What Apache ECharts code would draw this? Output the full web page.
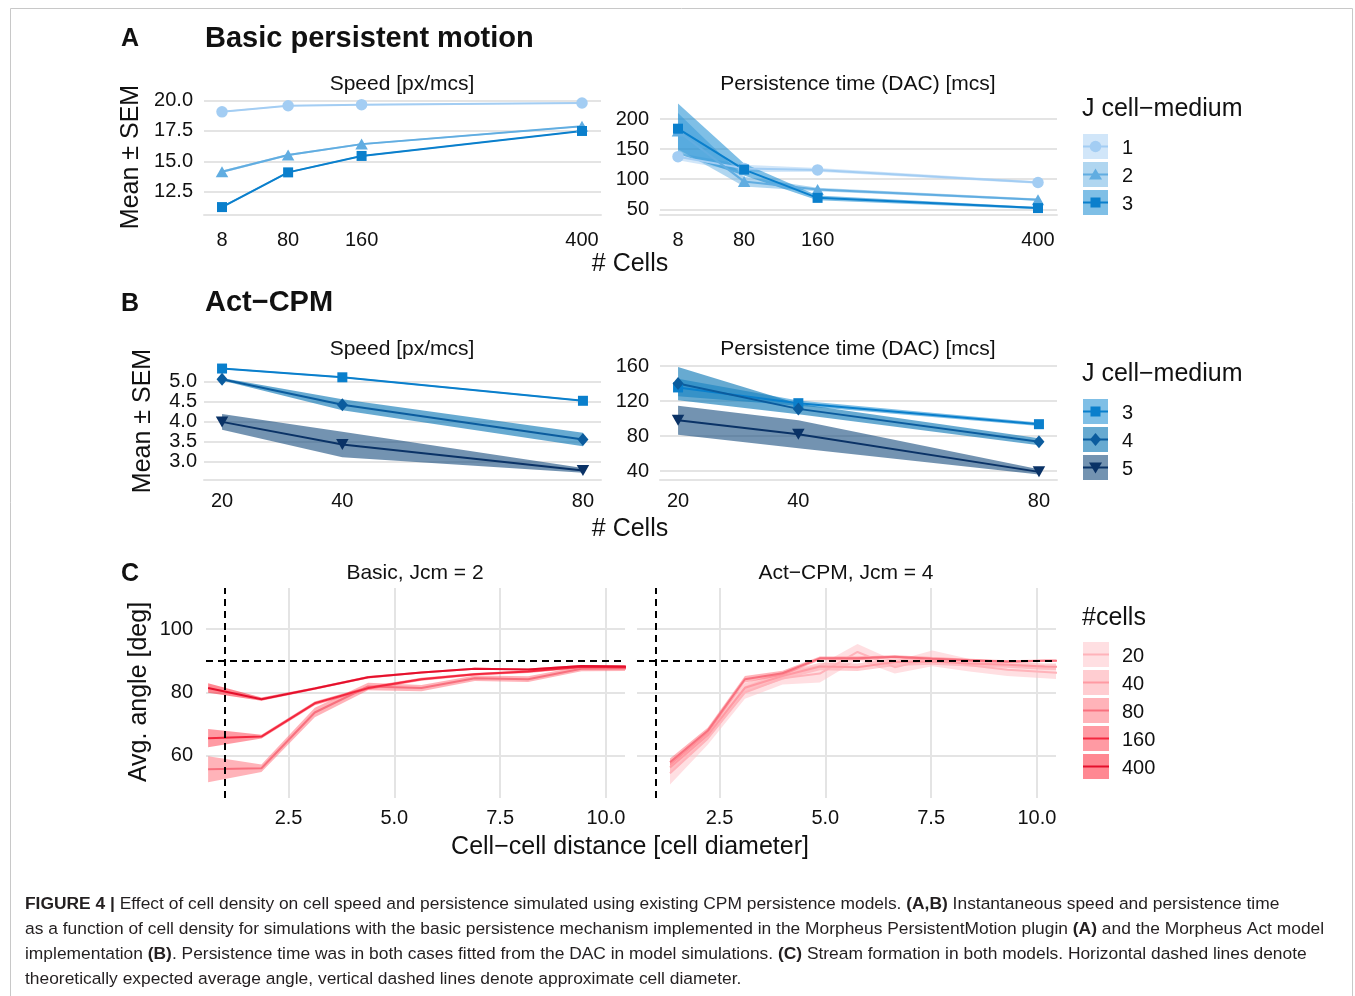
<!DOCTYPE html>
<html><head><meta charset="utf-8">
<script src="https://cdn.jsdelivr.net/npm/echarts@6/dist/echarts.min.js"></script>
<style>html,body{margin:0;padding:0;background:#fff}#c{width:1355px;height:996px}</style>
</head><body><div id="c"></div>
<script>
// ================= DATA =================
// Panel A: Basic persistent motion
const cellsA = [8, 80, 160, 400];
const legendA = ['1', '2', '3'];
const speedA_J1 = [19.07, 19.57, 19.66, 19.80];
const speedA_J1_sem = [0.06, 0.05, 0.05, 0.04];
const speedA_J2 = [14.15, 15.52, 16.42, 17.88];
const speedA_J2_sem = [0.10, 0.08, 0.07, 0.05];
const speedA_J3 = [11.25, 14.10, 15.45, 17.50];
const speedA_J3_sem = [0.08, 0.07, 0.06, 0.04];
const persA_J1 = [137.5, 118, 115.5, 94.5];
const persA_J1_sem = [6, 6, 3, 2];
const persA_J2 = [180, 96, 83, 66];
const persA_J2_sem = [30, 8, 3, 2];
const persA_J3 = [184, 116, 69, 52];
const persA_J3_sem = [42, 10, 4, 2];
const ticksCellsA = [8, 80, 160, 400];
const ticksSpeedA = [12.5, 15, 17.5, 20];
const ticksPersA = [50, 100, 150, 200];

// Panel B: Act-CPM
const cellsB = [20, 40, 80];
const legendB = ['3', '4', '5'];
const speedB_J3 = [5.33, 5.11, 4.52];
const speedB_J3_sem = [0.02, 0.02, 0.02];
const speedB_J4 = [5.06, 4.42, 3.55];
const speedB_J4_sem = [0.03, 0.14, 0.17];
const speedB_J5 = [3.99, 3.42, 2.77];
const speedB_J5_sem = [0.20, 0.32, 0.06];
const persB_J3 = [135.5, 117.5, 93.5];
const persB_J3_sem = [10, 3, 2];
const persB_J4 = [140, 111, 73.5];
const persB_J4_sem = [19, 6, 4];
const persB_J5 = [98, 82, 39];
const persB_J5_sem = [16.5, 16, 3];
const ticksCellsB = [20, 40, 80];
const ticksSpeedB = [3.0, 3.5, 4.0, 4.5, 5.0];
const ticksPersB = [40, 80, 120, 160];

// Panel C: stream formation
const distC1 = [0.6, 1.86, 3.12, 4.38, 5.64, 6.9, 8.16, 9.42, 10.68];
const angC1_80 = [55.8, 56.1, 73.7, 81.9, 81.4, 84.5, 84.2, 87.5, 87.6];
const angC1_80_sem = [4.1, 1.2, 1.5, 1.2, 1.0, 0.9, 0.9, 0.8, 0.8];
const angC1_160 = [65.6, 66.1, 76.6, 81.4, 84.2, 85.8, 86.6, 88.1, 88.0];
const angC1_160_sem = [2.9, 0.6, 0.6, 0.5, 0.5, 0.4, 0.4, 0.4, 0.4];
const angC1_400 = [81.4, 77.9, 81.3, 84.8, 86.3, 87.5, 87.3, 88.4, 88.2];
const angC1_400_sem = [1.5, 0.5, 0.4, 0.4, 0.3, 0.3, 0.3, 0.3, 0.3];
const distC2 = [1.33, 2.22, 3.1, 3.99, 4.87, 5.76, 6.64, 7.53, 8.41, 9.3, 10.18, 11.07];
const angC2_20 = [54.5, 65.5, 80.0, 84.5, 86.0, 92.8, 88.0, 90.8, 88.6, 87.2, 86.5, 85.8];
const angC2_20_sem = [3.5, 2.0, 2.0, 2.0, 2.8, 2.5, 2.0, 2.5, 2.0, 2.0, 2.0, 2.0];
const angC2_40 = [56.3, 66.5, 81.5, 85.2, 88.2, 88.0, 89.6, 89.8, 89.2, 88.8, 88.2, 88.0];
const angC2_40_sem = [2.0, 1.5, 1.5, 1.2, 1.2, 1.2, 1.2, 1.0, 1.0, 1.0, 1.0, 1.0];
const angC2_80 = [58.0, 67.9, 84.2, 86.1, 90.8, 90.8, 91.3, 90.7, 90.2, 89.8, 90.0, 90.0];
const angC2_80_sem = [1.2, 1.0, 1.0, 0.8, 0.6, 0.6, 0.5, 0.5, 0.5, 0.4, 0.4, 0.4];
const legendC = ['20', '40', '80', '160', '400'];
const ticksDist = [2.5, 5, 7.5, 10];
const ticksAngle = [60, 80, 100];
const cellDiameter = 1;
const expectedAngle = 90;

// ================= STYLE =================
const FONT = "'Liberation Sans', Arial, Helvetica, sans-serif";
const GRIDC = '#e4e4e4';
const TXT = '#111';
const colA = ['#a3cdf3', '#61ade1', '#0a7fcc'];
const bandA = ['rgba(163,205,243,0.5)', 'rgba(97,173,225,0.5)', 'rgba(0,127,205,0.5)'];
const symA = ['circle', 'triangle', 'rect'];
const colB = ['#0a7fcc', '#0b5c9e', '#0a3266'];
const bandB = ['rgba(0,127,205,0.5)', 'rgba(10,118,180,0.62)', 'rgba(22,75,125,0.6)'];
const symB = ['rect', 'diamond', 'triangle'];
const colC = {'20': '#ffb3ba', '40': '#ff9aa3', '80': '#f8707e', '160': '#f3283f', '400': '#e4102c'};
const bandC = {'20': 'rgba(255,191,197,0.5)', '40': 'rgba(255,155,163,0.5)', '80': 'rgba(255,103,115,0.5)', '160': 'rgba(255,53,71,0.5)', '400': 'rgba(255,17,37,0.5)'};

const grids = [
  {left: 204, top: 92, width: 397, height: 123},
  {left: 660, top: 92, width: 397, height: 123},
  {left: 204, top: 357, width: 397, height: 123},
  {left: 660, top: 357, width: 397, height: 123},
  {left: 206, top: 588, width: 419, height: 210},
  {left: 637, top: 588, width: 419, height: 210}
];

function axis(gridIndex, min, max, ticks, fmt, o) {
  return {
    type: 'value', gridIndex, min, max,
    axisLine: {show: !!o.line, onZero: false, lineStyle: {color: GRIDC, width: 2}},
    axisTick: {show: false, customValues: ticks},
    axisLabel: {show: o.label !== false, customValues: ticks, formatter: fmt, margin: o.margin,
      fontSize: 20, color: TXT, fontFamily: FONT},
    splitLine: {show: !!o.split, lineStyle: {color: GRIDC, width: 2}}
  };
}
const f0 = v => String(v);
const f1 = v => v.toFixed(1);

const xAxes = [
  axis(0, -11.6, 420.7, ticksCellsA, f0, {line: true, margin: 15}),
  axis(1, -11.6, 420.7, ticksCellsA, f0, {line: true, margin: 15}),
  axis(2, 17, 83, ticksCellsB, f0, {line: true, margin: 11}),
  axis(3, 17, 83, ticksCellsB, f0, {line: true, margin: 11}),
  axis(4, 0.55, 10.45, ticksDist, f1, {split: true, margin: 10}),
  axis(5, 0.55, 10.45, ticksDist, f1, {split: true, margin: 10})
];
const yAxes = [
  axis(0, 10.6, 20.7, ticksSpeedA, f1, {split: true, margin: 11}),
  axis(1, 40.5, 245, ticksPersA, f0, {split: true, margin: 11}),
  axis(2, 2.53, 5.62, ticksSpeedB, f1, {split: true, margin: 7}),
  axis(3, 29.7, 170.3, ticksPersB, f0, {split: true, margin: 11}),
  axis(4, 46.7, 113, ticksAngle, f0, {split: true, margin: 13}),
  axis(5, 46.7, 113, ticksAngle, f0, {split: true, label: false, margin: 13})
];

const bands = [], lines = [];
function addBand(ax, xs, m, s, color) {
  const pts = xs.map((x, i) => [x, m[i] - s[i], m[i] + s[i]]);
  bands.push({type: 'custom', xAxisIndex: ax, yAxisIndex: ax, silent: true, clip: true, z: 1,
    data: pts, encode: {x: 0, y: [1, 2]},
    renderItem: function (params, api) {
      if (params.dataIndex !== 0) return null;
      const up = pts.map(p => api.coord([p[0], p[2]]));
      const lo = pts.map(p => api.coord([p[0], p[1]])).reverse();
      return {type: 'polygon', shape: {points: up.concat(lo)}, style: {fill: color}};
    }});
}
function symSize(sym) {
  return sym === 'circle' ? 11.5 : sym === 'triangle' ? [12.5, 11] : sym === 'rect' ? 10 : [11, 13];
}
function addLine(ax, xs, m, color, sym, rot) {
  lines.push({type: 'line', xAxisIndex: ax, yAxisIndex: ax, silent: true,
    data: xs.map((x, i) => [x, m[i]]),
    symbol: sym || 'none', symbolSize: sym ? symSize(sym) : 0, symbolRotate: rot || 0,
    showAllSymbol: true,
    itemStyle: {color: color}, lineStyle: {color: color, width: 2}, z: 3});
}

// A
const aSp = [[speedA_J1, speedA_J1_sem], [speedA_J2, speedA_J2_sem], [speedA_J3, speedA_J3_sem]];
const aPe = [[persA_J1, persA_J1_sem], [persA_J2, persA_J2_sem], [persA_J3, persA_J3_sem]];
aSp.forEach((d, k) => addBand(0, cellsA, d[0], d[1], bandA[k]));
aPe.forEach((d, k) => addBand(1, cellsA, d[0], d[1], bandA[k]));
aSp.forEach((d, k) => addLine(0, cellsA, d[0], colA[k], symA[k]));
aPe.forEach((d, k) => addLine(1, cellsA, d[0], colA[k], symA[k]));
// B
const bSp = [[speedB_J3, speedB_J3_sem], [speedB_J4, speedB_J4_sem], [speedB_J5, speedB_J5_sem]];
const bPe = [[persB_J3, persB_J3_sem], [persB_J4, persB_J4_sem], [persB_J5, persB_J5_sem]];
bSp.forEach((d, k) => addBand(2, cellsB, d[0], d[1], bandB[k]));
bPe.forEach((d, k) => addBand(3, cellsB, d[0], d[1], bandB[k]));
bSp.forEach((d, k) => addLine(2, cellsB, d[0], colB[k], symB[k], k === 2 ? 180 : 0));
bPe.forEach((d, k) => addLine(3, cellsB, d[0], colB[k], symB[k], k === 2 ? 180 : 0));
// C
const c1 = [['80', angC1_80, angC1_80_sem], ['160', angC1_160, angC1_160_sem], ['400', angC1_400, angC1_400_sem]];
const c2 = [['20', angC2_20, angC2_20_sem], ['40', angC2_40, angC2_40_sem], ['80', angC2_80, angC2_80_sem]];
c1.forEach(d => addBand(4, distC1, d[1], d[2], bandC[d[0]]));
c2.forEach(d => addBand(5, distC2, d[1], d[2], bandC[d[0]]));
c1.forEach(d => addLine(4, distC1, d[1], colC[d[0]]));
c2.forEach(d => addLine(5, distC2, d[1], colC[d[0]]));

const refLines = {silent: true, symbol: 'none', animation: false, label: {show: false},
  lineStyle: {color: '#000', width: 2, type: [7, 5]},
  data: [{xAxis: cellDiameter}, {yAxis: expectedAngle}]};
[4, 5].forEach(ax => lines.push({type: 'line', xAxisIndex: ax, yAxisIndex: ax, data: [], silent: true,
  symbol: 'none', z: 5, markLine: JSON.parse(JSON.stringify(refLines))}));

// ================= GRAPHIC (titles, legends, caption) =================
const g = [];
function txt(x, y, text, size, opt) {
  opt = opt || {};
  g.push({type: 'text', x: x + (opt.rot ? 1 : 0), y: y + (opt.rot ? 0 : 1.5), rotation: opt.rot || 0, silent: true,
    style: {text, fill: opt.color || TXT, font: (opt.bold ? 'bold ' : '') + size + 'px ' + FONT,
      textAlign: opt.align || 'left', textVerticalAlign: 'middle'}});
}
txt(121, 38, 'A', 25, {bold: true});
txt(205, 37, 'Basic persistent motion', 29, {bold: true});
txt(121, 303, 'B', 25, {bold: true});
txt(205, 301, 'Act\u2212CPM', 29, {bold: true});
txt(121, 573, 'C', 25, {bold: true});
txt(402, 83, 'Speed [px/mcs]', 21, {align: 'center'});
txt(858, 83, 'Persistence time (DAC) [mcs]', 21, {align: 'center'});
txt(402, 348, 'Speed [px/mcs]', 21, {align: 'center'});
txt(858, 348, 'Persistence time (DAC) [mcs]', 21, {align: 'center'});
txt(415, 572, 'Basic, Jcm = 2', 21, {align: 'center'});
txt(846, 572, 'Act\u2212CPM, Jcm = 4', 21, {align: 'center'});
txt(630, 263, '# Cells', 25, {align: 'center'});
txt(630, 528, '# Cells', 25, {align: 'center'});
txt(630, 846, 'Cell\u2212cell distance [cell diameter]', 25, {align: 'center'});
txt(130, 157, 'Mean \u00b1 SEM', 25, {align: 'center', rot: Math.PI / 2});
txt(142, 421, 'Mean \u00b1 SEM', 25, {align: 'center', rot: Math.PI / 2});
txt(138, 692, 'Avg. angle [deg]', 25, {align: 'center', rot: Math.PI / 2});

function keySymbol(sym, cx, cy, color, down) {
  if (sym === 'circle') g.push({type: 'circle', silent: true, shape: {cx, cy, r: 5.75}, style: {fill: color}});
  else if (sym === 'rect') g.push({type: 'rect', silent: true, shape: {x: cx - 5, y: cy - 5, width: 10, height: 10}, style: {fill: color}});
  else if (sym === 'diamond') g.push({type: 'polygon', silent: true, shape: {points: [[cx, cy - 6.5], [cx + 5.5, cy], [cx, cy + 6.5], [cx - 5.5, cy]]}, style: {fill: color}});
  else {
    const s = down ? -1 : 1;
    g.push({type: 'polygon', silent: true, shape: {points: [[cx, cy - 6 * s], [cx + 6.5, cy + 5 * s], [cx - 6.5, cy + 5 * s]]}, style: {fill: color}});
  }
}
function legend(title, titleY, labels, tops, bg, col, syms, w, downLast) {
  txt(1082, titleY, title, 25);
  labels.forEach((lab, i) => {
    const y = tops[i];
    g.push({type: 'rect', silent: true, shape: {x: 1083, y, width: w, height: 25}, style: {fill: bg[i]}});
    g.push({type: 'line', silent: true, shape: {x1: 1083, y1: y + 12.5, x2: 1083 + w, y2: y + 12.5}, style: {stroke: col[i], lineWidth: 2}});
    if (syms) keySymbol(syms[i], 1083 + w / 2, y + 12.5, col[i], downLast && i === labels.length - 1);
    txt(1122, y + 12.5, lab, 20);
  });
}
legend('J cell\u2212medium', 108, legendA, [134, 162, 190], bandA, colA, symA, 25, false);
legend('J cell\u2212medium', 373, legendB, [399, 427, 455], bandB, colB, symB, 25, true);
legend('#cells', 617, legendC, [642, 670, 698, 726, 754], legendC.map(k => bandC[k]), legendC.map(k => colC[k]), null, 26, false);

// caption
const capLines = [
  '{b|FIGURE 4 |} Effect of cell density on cell speed and persistence simulated using existing CPM persistence models. {b|(A,B)} Instantaneous speed and persistence time',
  'as a function of cell density for simulations with the basic persistence mechanism implemented in the Morpheus PersistentMotion plugin {b|(A)} and the Morpheus Act model',
  'implementation {b|(B)}. Persistence time was in both cases fitted from the DAC in model simulations. {b|(C)} Stream formation in both models. Horizontal dashed lines denote',
  'theoretically expected average angle, vertical dashed lines denote approximate cell diameter.'
];
capLines.forEach((t, i) => {
  g.push({type: 'text', x: 25, y: 904 + 25 * i, silent: true,
    style: {text: t, fill: '#231f20', font: '17.4px ' + FONT, textAlign: 'left', textVerticalAlign: 'middle',
      rich: {b: {fontWeight: 'bold', fontSize: 17.4, fontFamily: FONT, fill: '#231f20'}}}});
});
// frame
g.push({type: 'rect', silent: true, z: -10, shape: {x: 10.5, y: 8.5, width: 1342, height: 995}, style: {fill: 'none', stroke: '#c8c8c8', lineWidth: 1}});

const chart = echarts.init(document.getElementById('c'), null, {renderer: 'canvas'});
chart.setOption({
  animation: false,
  backgroundColor: '#fff',
  grid: grids,
  xAxis: xAxes,
  yAxis: yAxes,
  series: bands.concat(lines),
  graphic: g
});
</script>
</body></html>
